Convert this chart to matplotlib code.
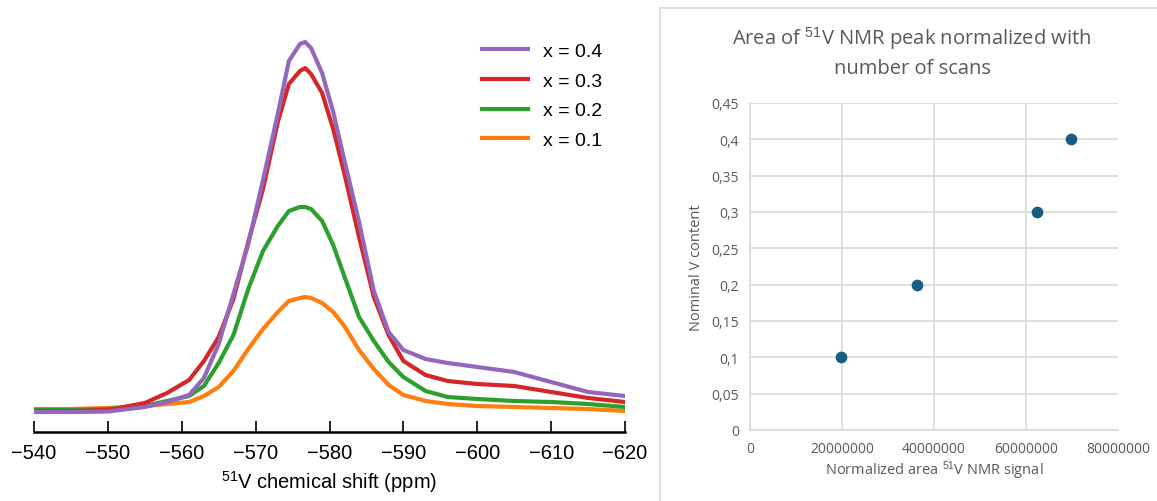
import matplotlib
matplotlib.use('Agg')
import matplotlib.pyplot as plt
from matplotlib.lines import Line2D
import numpy as np

plt.rcParams.update({
    'font.family': ['Liberation Sans', 'DejaVu Sans'],
    'mathtext.fontset': 'custom',
    'mathtext.rm': 'Liberation Sans',
    'mathtext.it': 'Liberation Sans',
})

# ---- left panel: 51V spectra (intensity in arbitrary units) ----
shift_ppm = [-540, -545, -550, -555, -558, -561, -563, -565, -567, -569,
             -571, -573, -574.5, -576, -576.7, -577.5, -579, -580.5, -582, -584,
             -586, -588, -590, -593, -596, -600, -605, -610, -615, -620]
x04 = [20, 20, 20.5, 25, 30, 37, 54, 88, 138, 188,
       252, 318, 371, 388, 390, 384, 359, 320, 272, 210,
       141, 100, 82, 73, 69, 65, 60, 50, 40, 36]
x03 = [21, 21, 22, 29, 39, 52, 71, 95, 133, 190,
       243, 310, 348, 361, 364, 358, 339, 303, 259, 195,
       135, 97, 71, 57, 51, 48, 46, 40, 34, 30]
x02 = [22, 22, 23, 26, 31, 36, 46, 69, 97, 143,
       181, 206, 221, 225, 225, 223, 211, 187, 156, 115,
       91, 70, 55, 41, 35, 33, 31, 30, 28, 25]
x01 = [23, 23, 24, 26, 28, 30, 36, 45, 61, 83,
       103, 120, 131, 134, 135, 134, 129, 120, 106, 82,
       63, 47, 37, 31, 28, 26, 25, 24, 23, 21]
spec_labels = ['x = 0.4', 'x = 0.3', 'x = 0.2', 'x = 0.1']
spec_colors = ['#9467bd', '#d62728', '#2ca02c', '#ff7f0e']

# ---- right panel: normalized area vs nominal V content ----
norm_area = [19.7e6, 36.3e6, 62.3e6, 69.8e6]
v_content = [0.1, 0.2, 0.3, 0.4]

fig = plt.figure(figsize=(11.57, 5.02), dpi=100)

ax1 = fig.add_axes([34/1157, 69/502, 591/1157, 413/502])
series = [x04, x03, x02, x01]
lines = []
for ys, lab, col in list(zip(series, spec_labels, spec_colors))[::-1]:
    ln, = ax1.plot(shift_ppm, ys, color=col, lw=3, label=lab)
    lines.append(ln)
ax1.set_xlim(-540, -620)
ax1.set_ylim(0, 413)
ax1.set_xticks(np.arange(-540, -621, -10))
ax1.set_xticklabels([f'\u2212{abs(t)}' for t in range(540, 621, 10)])
ax1.tick_params(axis='x', direction='in', length=8, width=1.2, labelsize=14.5, pad=8)
ax1.set_yticks([])
for s in ['top', 'right', 'left']:
    ax1.spines[s].set_visible(False)
ax1.spines['bottom'].set_linewidth(1.8)
ax1.set_xlabel('$^{51}$V chemical shift (ppm)', fontsize=14.5, labelpad=4)
ax1.legend(lines[::-1], spec_labels, loc='upper left', frameon=False, fontsize=14,
           bbox_to_anchor=(464/1157, 1 - 26/502), bbox_transform=fig.transFigure,
           handlelength=2.4, handletextpad=0.75, labelspacing=0.62)

# excel-style chart border
grey = '#d9d9d9'
fig.add_artist(Line2D([660/1157, 660/1157], [0, 1 - 9/502], color=grey, lw=1.2,
                      transform=fig.transFigure))
fig.add_artist(Line2D([660/1157, 1], [1 - 9/502, 1 - 9/502], color=grey, lw=1.2,
                      transform=fig.transFigure))

txt = '#595959'
ax2 = fig.add_axes([750/1157, 71/502, 368/1157, 327/502])
ax2.scatter(norm_area, v_content, s=55, color='#156082', zorder=3)
ax2.set_xlim(0, 8e7)
ax2.set_ylim(0, 0.45)
ax2.set_xticks(np.arange(0, 8e7 + 1, 2e7))
ax2.set_xticklabels(['0', '20000000', '40000000', '60000000', '80000000'])
yt = np.arange(0, 0.451, 0.05)
ax2.set_yticks(yt)
ax2.set_yticklabels(['0'] + [f'{v:.2f}'.rstrip('0').replace('.', ',') for v in yt[1:]])
ax2.tick_params(length=0, labelsize=10, colors=txt, pad=8)
for lab in ax2.get_xticklabels() + ax2.get_yticklabels():
    lab.set_family(['Open Sans', 'DejaVu Sans'])
ax2.grid(True, color=grey, lw=1.2)
ax2.xaxis.get_gridlines()[-1].set_visible(False)
for s in ['top', 'right']:
    ax2.spines[s].set_visible(False)
for s in ['left', 'bottom']:
    ax2.spines[s].set_color(grey)
    ax2.spines[s].set_linewidth(1.2)
ax2.set_xlabel('Normalized area $^{51}$V NMR signal', fontsize=10.5, color=txt,
               family=['Open Sans', 'DejaVu Sans'], labelpad=2)
ax2.set_ylabel('Nominal V content', fontsize=10.5, color=txt,
               family=['Open Sans', 'DejaVu Sans'], labelpad=5)
fig.text(912/1157, 1 - 52/502, 'Area of $^{51}$V NMR peak normalized with\nnumber of scans',
         ha='center', va='center', fontsize=14.5, color=txt, linespacing=1.45,
         family=['Open Sans', 'DejaVu Sans'])

fig.savefig('out.png', dpi=100)
